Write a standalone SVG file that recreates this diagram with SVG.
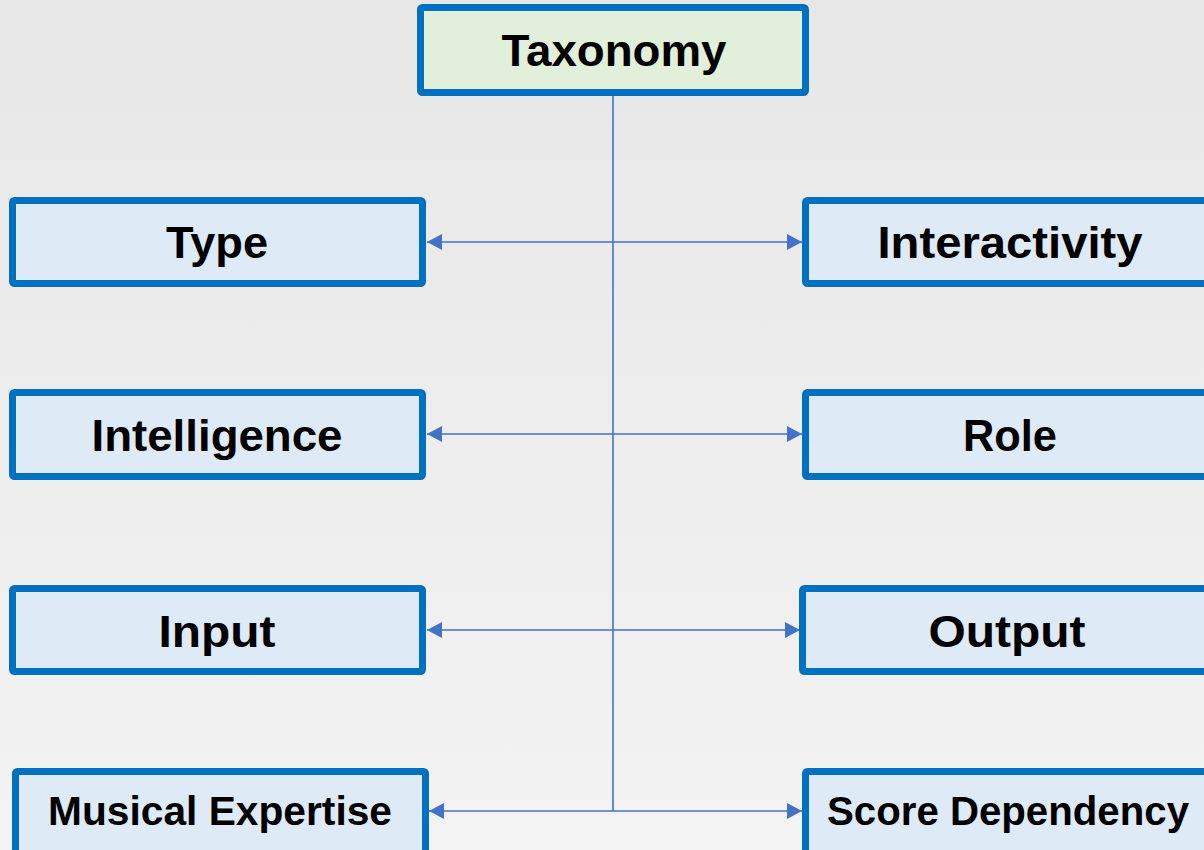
<svg xmlns="http://www.w3.org/2000/svg" width="1204" height="850" viewBox="0 0 1204 850">
  <defs>
    <linearGradient id="bg" x1="0" y1="0" x2="0" y2="1">
      <stop offset="0" stop-color="#e7e7e7"/>
      <stop offset="1" stop-color="#f3f3f3"/>
    </linearGradient>
    <marker id="arrow" markerUnits="userSpaceOnUse" markerWidth="15" markerHeight="16" refX="15" refY="8" orient="auto">
      <path d="M0,0 L15,8 L0,16 z" fill="#4472c4"/>
    </marker>
    <style>
      .box { fill: #deeaf6; stroke: #0070c0; stroke-width: 7; }
      .root { fill: #e2efda; stroke: #0070c0; stroke-width: 7; }
      .label { font-family: "Liberation Sans", Arial, sans-serif; font-weight: bold; font-size: 44px; fill: #000; text-anchor: middle; }
      .long { font-size: 40px; }
      .link { stroke: #4472c4; stroke-width: 1.6; fill: none; }
    </style>
  </defs>

  <rect width="1204" height="850" fill="url(#bg)"/>

  <!-- connectors -->
  <g id="connectors">
    <line class="link" x1="613" y1="96" x2="613" y2="811"/>
    <line class="link" x1="613" y1="242" x2="427" y2="242" marker-end="url(#arrow)"/>
    <line class="link" x1="613" y1="242" x2="802" y2="242" marker-end="url(#arrow)"/>
    <line class="link" x1="613" y1="434" x2="427" y2="434" marker-end="url(#arrow)"/>
    <line class="link" x1="613" y1="434" x2="802" y2="434" marker-end="url(#arrow)"/>
    <line class="link" x1="613" y1="630" x2="427" y2="630" marker-end="url(#arrow)"/>
    <line class="link" x1="613" y1="630" x2="800" y2="630" marker-end="url(#arrow)"/>
    <line class="link" x1="613" y1="811" x2="429" y2="811" marker-end="url(#arrow)"/>
    <line class="link" x1="613" y1="811" x2="802" y2="811" marker-end="url(#arrow)"/>
  </g>

  <!-- root -->
  <g id="taxonomy">
    <rect class="root" x="420.5" y="7.5" width="385" height="85" rx="2"/>
    <text class="label" x="614" y="66" textLength="225" lengthAdjust="spacingAndGlyphs">Taxonomy</text>
  </g>

  <!-- left column -->
  <g id="type">
    <rect class="box" x="12.5" y="200.5" width="410" height="83" rx="2"/>
    <text class="label" x="217" y="258" textLength="102" lengthAdjust="spacingAndGlyphs">Type</text>
  </g>
  <g id="intelligence">
    <rect class="box" x="12.5" y="392.5" width="410" height="84" rx="2"/>
    <text class="label" x="217" y="451" textLength="251" lengthAdjust="spacingAndGlyphs">Intelligence</text>
  </g>
  <g id="input">
    <rect class="box" x="12.5" y="588.5" width="410" height="83" rx="2"/>
    <text class="label" x="217" y="647" textLength="117" lengthAdjust="spacingAndGlyphs">Input</text>
  </g>
  <g id="musical-expertise">
    <rect class="box" x="15.5" y="771.5" width="410" height="90" rx="2"/>
    <text class="label long" x="220" y="825" textLength="344" lengthAdjust="spacingAndGlyphs">Musical Expertise</text>
  </g>

  <!-- right column -->
  <g id="interactivity">
    <rect class="box" x="805.5" y="200.5" width="410" height="83" rx="2"/>
    <text class="label" x="1010" y="258" textLength="265" lengthAdjust="spacingAndGlyphs">Interactivity</text>
  </g>
  <g id="role">
    <rect class="box" x="805.5" y="392.5" width="410" height="84" rx="2"/>
    <text class="label" x="1010" y="451" textLength="94" lengthAdjust="spacingAndGlyphs">Role</text>
  </g>
  <g id="output">
    <rect class="box" x="802.5" y="588.5" width="410" height="83" rx="2"/>
    <text class="label" x="1007" y="647" textLength="157" lengthAdjust="spacingAndGlyphs">Output</text>
  </g>
  <g id="score-dependency">
    <rect class="box" x="805.5" y="771.5" width="410" height="90" rx="2"/>
    <text class="label long" x="1008" y="825" textLength="362" lengthAdjust="spacingAndGlyphs">Score Dependency</text>
  </g>
</svg>
